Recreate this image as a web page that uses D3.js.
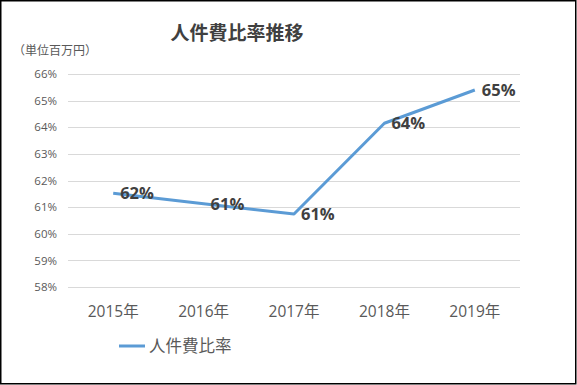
<!DOCTYPE html>
<html>
<head>
<meta charset="utf-8">
<script src="https://cdn.jsdelivr.net/npm/d3@7"></script>
<style>
  body { margin: 0; background: #fff; }
  text { font-family: "Open Sans", "Noto Sans CJK JP", sans-serif; }
</style>
</head>
<body>
<script>
// data
var years = ["2015年", "2016年", "2017年", "2018年", "2019年"]
var ratios = [61.52, 61.13, 60.74, 64.15, 65.40]
var labels = ["62%", "61%", "61%", "64%", "65%"]
var yTicks = [58, 59, 60, 61, 62, 63, 64, 65, 66]

var W = 577, H = 385
var margin = {top: 74, right: 57, bottom: 98, left: 68}
var width = W - margin.left - margin.right
var height = H - margin.top - margin.bottom

var svg = d3.select("body").append("svg")
  .attr("width", W)
  .attr("height", H)

// frame
svg.append("rect")
  .attr("x", 0.75).attr("y", 0.75)
  .attr("width", 575).attr("height", 383)
  .attr("fill", "#fff")
  .attr("stroke", "#000")
  .attr("stroke-width", 1.5)

// title
svg.append("text")
  .attr("x", 237).attr("y", 40)
  .attr("text-anchor", "middle")
  .attr("font-size", 19)
  .attr("font-weight", "bold")
  .attr("fill", "#404040")
  .text("人件費比率推移")

svg.append("text")
  .attr("x", 13).attr("y", 55)
  .attr("font-size", 12)
  .attr("fill", "#595959")
  .text("（単位百万円）")

var g = svg.append("g")
  .attr("transform", "translate(" + margin.left + "," + margin.top + ")")

var x = d3.scaleBand().domain(years).range([0, width])
var y = d3.scaleLinear().domain([58, 66]).range([height, 0])

// gridlines
g.selectAll(".grid")
  .data(yTicks)
  .enter().append("line")
  .attr("x1", 0).attr("x2", width)
  .attr("y1", d => Math.round(y(d)) + 0.5)
  .attr("y2", d => Math.round(y(d)) + 0.5)
  .attr("stroke", "#d9d9d9")
  .attr("stroke-width", 1)

// y axis labels
var yAxis = g.append("g")
  .call(d3.axisLeft(y).tickValues(yTicks).tickSize(0).tickPadding(11).tickFormat(d => d + "%"))
yAxis.select(".domain").remove()
yAxis.selectAll("text")
  .attr("font-size", 11.5)
  .attr("fill", "#595959")
  .style("font-family", "\"Open Sans\", sans-serif")

// x axis labels
var xAxis = g.append("g")
  .attr("transform", "translate(0," + height + ")")
  .call(d3.axisBottom(x).tickSize(0).tickPadding(19))
xAxis.select(".domain").remove()
xAxis.selectAll("text")
  .attr("font-size", 15.5)
  .attr("fill", "#595959")
  .style("font-family", "\"Open Sans\", \"Noto Sans CJK JP\", sans-serif")

var pts = years.map((yr, i) => ({yr: yr, v: ratios[i], label: labels[i]}))

var line = d3.line()
  .x(d => x(d.yr) + x.bandwidth() / 2)
  .y(d => y(d.v))

g.append("path")
  .datum(pts)
  .attr("d", line)
  .attr("fill", "none")
  .attr("stroke", "#5b9bd5")
  .attr("stroke-width", 3)
  .attr("stroke-linejoin", "round")

g.selectAll(".lbl")
  .data(pts)
  .enter().append("text")
  .attr("x", d => x(d.yr) + x.bandwidth() / 2 + 7)
  .attr("y", d => y(d.v) + 6)
  .attr("font-size", 16.5)
  .attr("font-weight", "bold")
  .attr("fill", "#404040")
  .text(d => d.label)

// legend
var leg = svg.append("g").attr("transform", "translate(119,346)")
leg.append("line")
  .attr("x1", 0).attr("x2", 26)
  .attr("stroke", "#5b9bd5")
  .attr("stroke-width", 3)
leg.append("text")
  .attr("x", 30).attr("y", 6)
  .attr("font-size", 16.5)
  .attr("fill", "#595959")
  .text("人件費比率")
</script>
</body>
</html>
